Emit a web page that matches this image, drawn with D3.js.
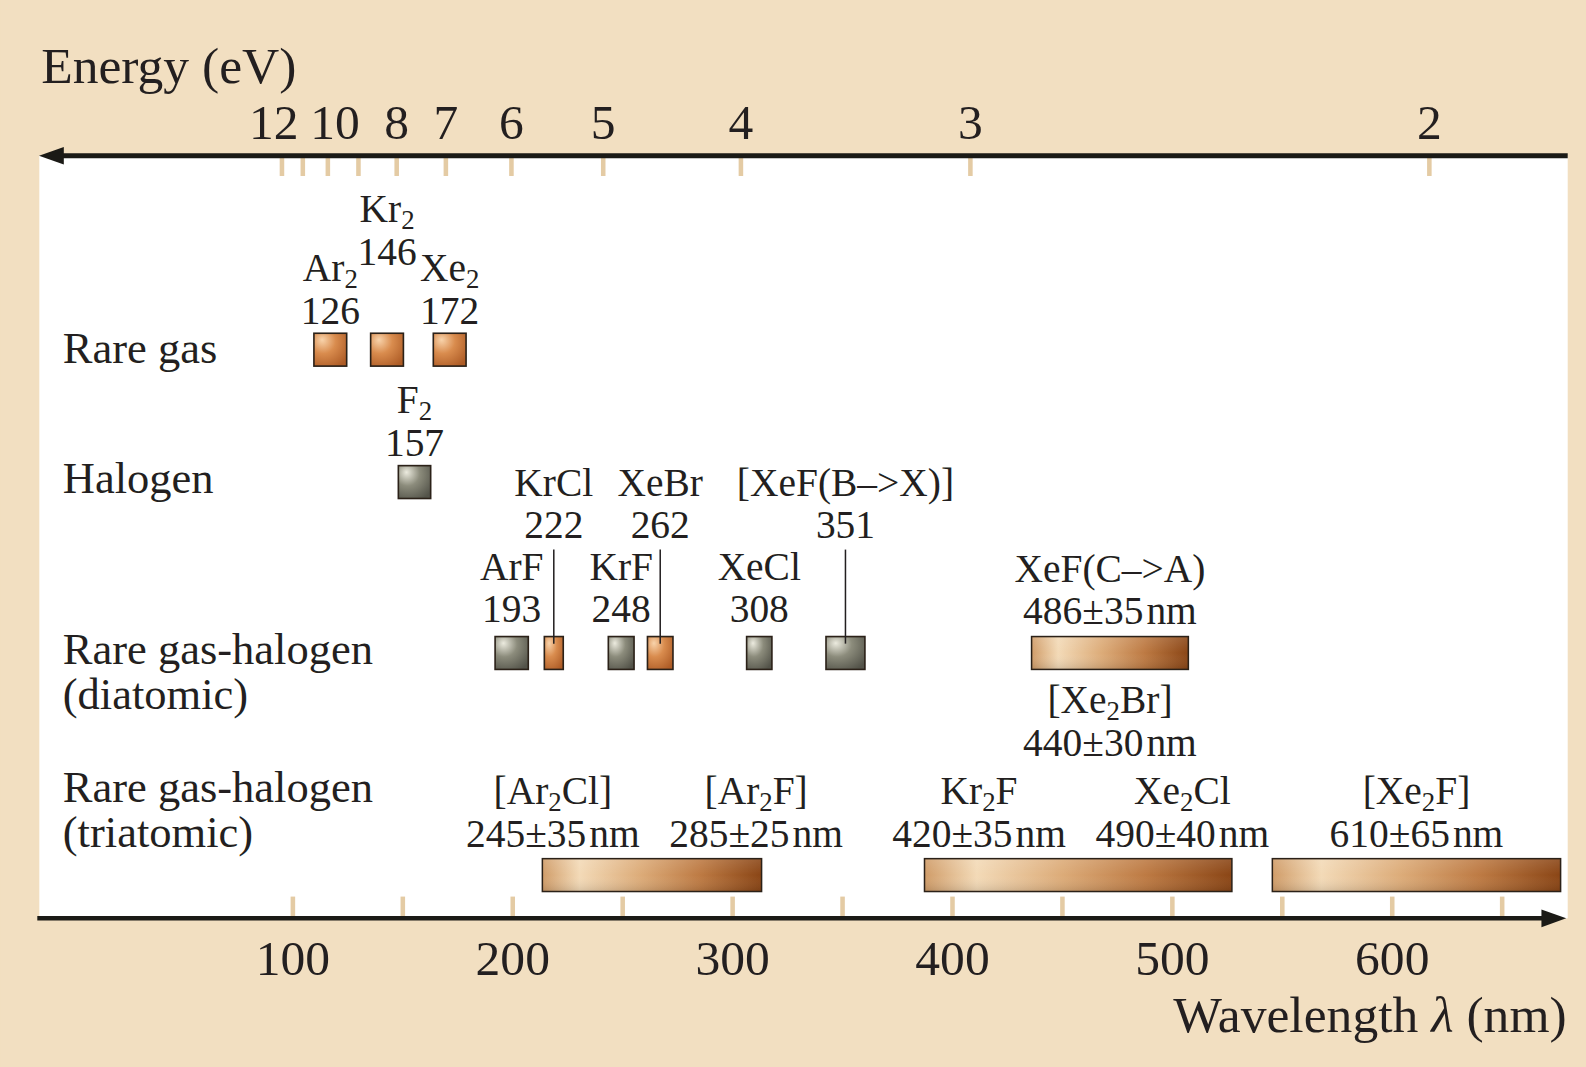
<!DOCTYPE html>
<html lang="en">
<head>
<meta charset="utf-8">
<title>Excimer emission wavelengths</title>
<script src="https://cdn.jsdelivr.net/npm/d3@7"></script>
<style>
  html, body { margin: 0; padding: 0; background: #f2dfc1; overflow: hidden; }
  svg { display: block; }
  text { font-family: "Liberation Serif", "Times New Roman", Times, serif; fill: #231f20; }
</style>
</head>
<body>
<div id="chart"></div>
<script>
'use strict';

// ---- data, wavelengths in nm ----
const WL_MAJOR = [100, 200, 300, 400, 500, 600]
const WL_MINOR = [150, 250, 350, 450, 550, 650]
const EV_TICKS = [12, 11, 10, 9, 8, 7, 6, 5, 4, 3, 2]   // eV
const EV_LABELS = [12, 10, 8, 7, 6, 5, 4, 3, 2]

// rare gas dimers
const RG_NAMES = ['Ar_2', 'Kr_2', 'Xe_2']
const RG_PEAK = [126, 146, 172]
const RG_LO = [109.8, 135.6, 164.1]
const RG_HI = [124.7, 150.5, 179.0]

// halogen
const HAL_NAMES = ['F_2']
const HAL_PEAK = [157]
const HAL_LO = [148.2]
const HAL_HI = [162.9]

// rare gas-halogen, diatomic
const DIA_NAMES = ['ArF', 'KrCl', 'KrF', 'XeBr', 'XeCl', '[XeF(B–>X)]']
const DIA_PEAK = [193, 222, 248, 262, 308, 351]
const DIA_LO = [192.2, 214.6, 243.7, 261.5, 306.6, 342.7]
const DIA_HI = [207.3, 223.2, 255.4, 273.1, 318.1, 360.4]

// broad band drawn in the diatomic row
const CA_NAMES = ['XeF(C–>A)', '[Xe_2Br]']
const CA_PEAK = [486, 440]
const CA_HALF = [35, 30]
const CA_LO = [436.2]
const CA_HI = [507.5]

// rare gas-halogen, triatomic
const TRI_NAMES = ['[Ar_2Cl]', '[Ar_2F]', 'Kr_2F', 'Xe_2Cl', '[Xe_2F]']
const TRI_PEAK = [245, 285, 420, 490, 610]
const TRI_HALF = [35, 25, 35, 40, 65]
const TRI_BAND = [0, 0, 1, 1, 2]
const TRI_LO = [213.7, 387.5, 545.7]
const TRI_HI = [313.4, 527.3, 676.8]

// ---- layout ----
const W = 1568, H = 1055
const INK = '#231f20', TICK = '#e4cba4', EDGE = '#2b2118', BG = '#f2dfc1'
const AX_TOP = 154, AX_BOT = 908, LEFT = 38.8, RIGHT = 1550
const SQ_H = 32.5, LINE = 42
const FS_TITLE = 51, FS_TICK = 49, FS_ROW = 44, FS_LAB = 39
const COPPER = new Set(['Ar_2', 'Kr_2', 'Xe_2', 'KrCl', 'XeBr'])

const x = d3.scaleLinear().domain([100, 600]).range([289, 1376])
// energy axis is linear in 1/E
const inv = d3.scaleLinear().domain([0, 0.5]).range([51.3, 1412.7])

const svg = d3.select('#chart').append('svg')
  .attr('width', 1586).attr('height', 1067)
  .attr('viewBox', `0 0 ${W} ${H}`)

const defs = svg.append('defs')
const radial = (id, stops) => {
  const g = defs.append('radialGradient').attr('id', id)
    .attr('cx', 0.32).attr('cy', 0.28).attr('r', 0.85).attr('fx', 0.25).attr('fy', 0.2)
  stops.forEach(s => g.append('stop').attr('offset', s[0]).attr('stop-color', s[1]))
}
radial('copper', [[0, '#f8d3ab'], [0.45, '#d98c4e'], [1, '#ae5c26']])
radial('grey', [[0, '#ecebdf'], [0.45, '#8c8c7c'], [1, '#535349']])
const lin = defs.append('linearGradient').attr('id', 'band')
;[[0, '#d09c68'], [0.17, '#f3dab7'], [0.45, '#dcab78'], [0.72, '#bd7a43'], [1, '#8a4515']]
  .forEach(s => lin.append('stop').attr('offset', s[0]).attr('stop-color', s[1]))
const shade = defs.append('linearGradient').attr('id', 'shade').attr('x2', 0).attr('y2', 1)
;[[0, '#fff', 0.12], [0.5, '#fff', 0], [1, '#000', 0.12]]
  .forEach(s => shade.append('stop').attr('offset', s[0]).attr('stop-color', s[1]).attr('stop-opacity', s[2]))

svg.append('rect').attr('width', W).attr('height', H).attr('fill', BG)
svg.append('rect').attr('x', LEFT).attr('y', AX_TOP)
  .attr('width', RIGHT - LEFT).attr('height', AX_BOT - AX_TOP).attr('fill', '#fff')

// ---- axes ----
const nudge = { 12: -8, 10: 7 }
const eAxis = d3.axisTop(inv)
  .tickValues(EV_TICKS.map(e => 1 / e))
  .tickSize(-20)
  .tickFormat(u => { const e = Math.round(1 / u); return EV_LABELS.includes(e) ? e : '' })
svg.append('g').attr('transform', `translate(0,${AX_TOP})`).call(eAxis)
  .call(g => g.select('.domain').remove())
  .call(g => g.selectAll('.tick line').attr('stroke', TICK).attr('stroke-width', 4.5))
  .call(g => g.selectAll('.tick text').attr('font-size', FS_TICK).attr('dy', 0).attr('y', -17)
    .attr('dx', u => nudge[Math.round(1 / u)] || 0))

const wAxis = d3.axisBottom(x)
  .tickValues([...WL_MAJOR, ...WL_MINOR])
  .tickSize(-21.5)
  .tickFormat(v => WL_MAJOR.includes(v) ? v : '')
svg.append('g').attr('transform', `translate(0,${AX_BOT})`).call(wAxis)
  .call(g => g.select('.domain').remove())
  .call(g => g.selectAll('.tick line').attr('stroke', TICK).attr('stroke-width', 4.5))
  .call(g => g.selectAll('.tick text').attr('font-size', FS_TICK).attr('dy', 0).attr('y', 56))

// arrow lines
svg.append('line').attr('x1', 55).attr('x2', RIGHT).attr('y1', AX_TOP).attr('y2', AX_TOP)
  .attr('stroke', '#1b1a16').attr('stroke-width', 5)
svg.append('path').attr('d', `M38.5,${AX_TOP}L63,${AX_TOP - 8.7}L63,${AX_TOP + 8.7}Z`).attr('fill', '#1b1a16')
svg.append('line').attr('x1', LEFT - 2).attr('x2', 1530).attr('y1', AX_BOT).attr('y2', AX_BOT)
  .attr('stroke', '#1b1a16').attr('stroke-width', 4.5)
svg.append('path').attr('d', `M1548.5,${AX_BOT}L1524,${AX_BOT - 8.7}L1524,${AX_BOT + 8.7}Z`).attr('fill', '#1b1a16')

svg.append('text').attr('x', 40.6).attr('y', 82.5).attr('font-size', FS_TITLE).text('Energy (eV)')
const wl = svg.append('text').attr('x', 1549).attr('y', 1020).attr('text-anchor', 'end').attr('font-size', FS_TITLE)
wl.append('tspan').text('Wavelength ')
wl.append('tspan').attr('font-style', 'italic').text('λ')
wl.append('tspan').text(' (nm)')

// ---- row labels ----
const rowLabels = [['Rare gas', 359.2], ['Halogen', 487.7], ['Rare gas-halogen', 657], ['(diatomic)', 701],
  ['Rare gas-halogen', 793], ['(triatomic)', 837]]
svg.append('g').selectAll('text').data(rowLabels).join('text')
  .attr('x', 62).attr('y', d => d[1]).attr('font-size', FS_ROW).text(d => d[0])

// ---- helpers ----
function rich(t, str, fs) {
  let down = false
  str.split(/_(\d)/).forEach((p, i) => {
    if (!p) return
    const s = t.append('tspan').text(p)
    if (i % 2 === 1) { s.attr('font-size', fs * 0.68).attr('dy', fs * 0.17); down = true }
    else if (down) { s.attr('dy', -fs * 0.17); down = false }
  })
  return t
}

function stack(g, cx, yName, name, peak, half) {
  rich(g.append('text').attr('x', cx).attr('y', yName).attr('text-anchor', 'middle')
    .attr('font-size', FS_LAB), name, FS_LAB)
  const v = g.append('text').attr('x', cx).attr('y', yName + LINE).attr('text-anchor', 'middle')
    .attr('font-size', FS_LAB)
  if (half) {
    v.text(`${peak}±${half}`)
    v.append('tspan').attr('dx', 3).text('nm')
  } else v.text(peak)
}

function squareRow(row, names, peaks, lo, hi) {
  const g = svg.append('g')
  const cx = lo.map((l, i) => (x(l) + x(hi[i])) / 2)
  g.selectAll('rect').data(names).join('rect')
    .attr('x', (d, i) => x(lo[i])).attr('y', row.top)
    .attr('width', (d, i) => x(hi[i]) - x(lo[i])).attr('height', SQ_H)
    .attr('fill', d => COPPER.has(d) ? 'url(#copper)' : 'url(#grey)')
    .attr('stroke', EDGE).attr('stroke-width', 1.6)
  const ends = []
  names.forEach((name, i) => {
    const lg = g.append('g')
    stack(lg, cx[i], row.name, name, peaks[i])
    const w = lg.node().getBBox().width
    let tier = 0
    while (ends[tier] != null && cx[i] - w / 2 < ends[tier] + 4) tier++
    ends[tier] = cx[i] + w / 2
    lg.attr('transform', `translate(0,${-tier * row.step})`)
    if (tier && row.leader) {
      g.append('line').attr('x1', cx[i]).attr('x2', cx[i])
        .attr('y1', row.name + LINE - tier * row.step + 11).attr('y2', row.top + 7)
        .attr('stroke', INK).attr('stroke-width', 1.5)
    }
  })
}

function bands(lo, hi, top) {
  const g = svg.append('g')
  g.selectAll('rect.b').data(lo).join('rect').attr('class', 'b')
    .attr('x', d => x(d)).attr('y', top)
    .attr('width', (d, i) => x(hi[i]) - x(d)).attr('height', SQ_H)
    .attr('fill', 'url(#band)')
  g.selectAll('rect.s').data(lo).join('rect').attr('class', 's')
    .attr('x', d => x(d)).attr('y', top)
    .attr('width', (d, i) => x(hi[i]) - x(d)).attr('height', SQ_H)
    .attr('fill', 'url(#shade)').attr('stroke', EDGE).attr('stroke-width', 1.5)
}

// ---- marks ----
squareRow({ top: 329.5, name: 278, step: 58 }, RG_NAMES, RG_PEAK, RG_LO, RG_HI)
squareRow({ top: 460.4, name: 408.6, step: 58 }, HAL_NAMES, HAL_PEAK, HAL_LO, HAL_HI)
squareRow({ top: 629.4, name: 573.4, step: 83, leader: true }, DIA_NAMES, DIA_PEAK, DIA_LO, DIA_HI)

bands(CA_LO, CA_HI, 629.4)
const caCx = (x(CA_LO[0]) + x(CA_HI[0])) / 2
const caLabels = svg.append('g')
stack(caLabels, caCx, 575, CA_NAMES[0], CA_PEAK[0], CA_HALF[0])
stack(caLabels, caCx, 705.2, CA_NAMES[1], CA_PEAK[1], CA_HALF[1])

bands(TRI_LO, TRI_HI, 849)
const triLabels = svg.append('g')
TRI_NAMES.forEach((name, i) => {
  const b = TRI_BAND[i]
  const c = (x(TRI_LO[b]) + x(TRI_HI[b])) / 2
  const shared = TRI_BAND.filter(v => v === b).length > 1
  const first = TRI_BAND.indexOf(b) === i
  const cx = shared ? c + (first ? -98 : 103) : c
  stack(triLabels, cx, 795, name, TRI_PEAK[i], TRI_HALF[i])
})
</script>
</body>
</html>
